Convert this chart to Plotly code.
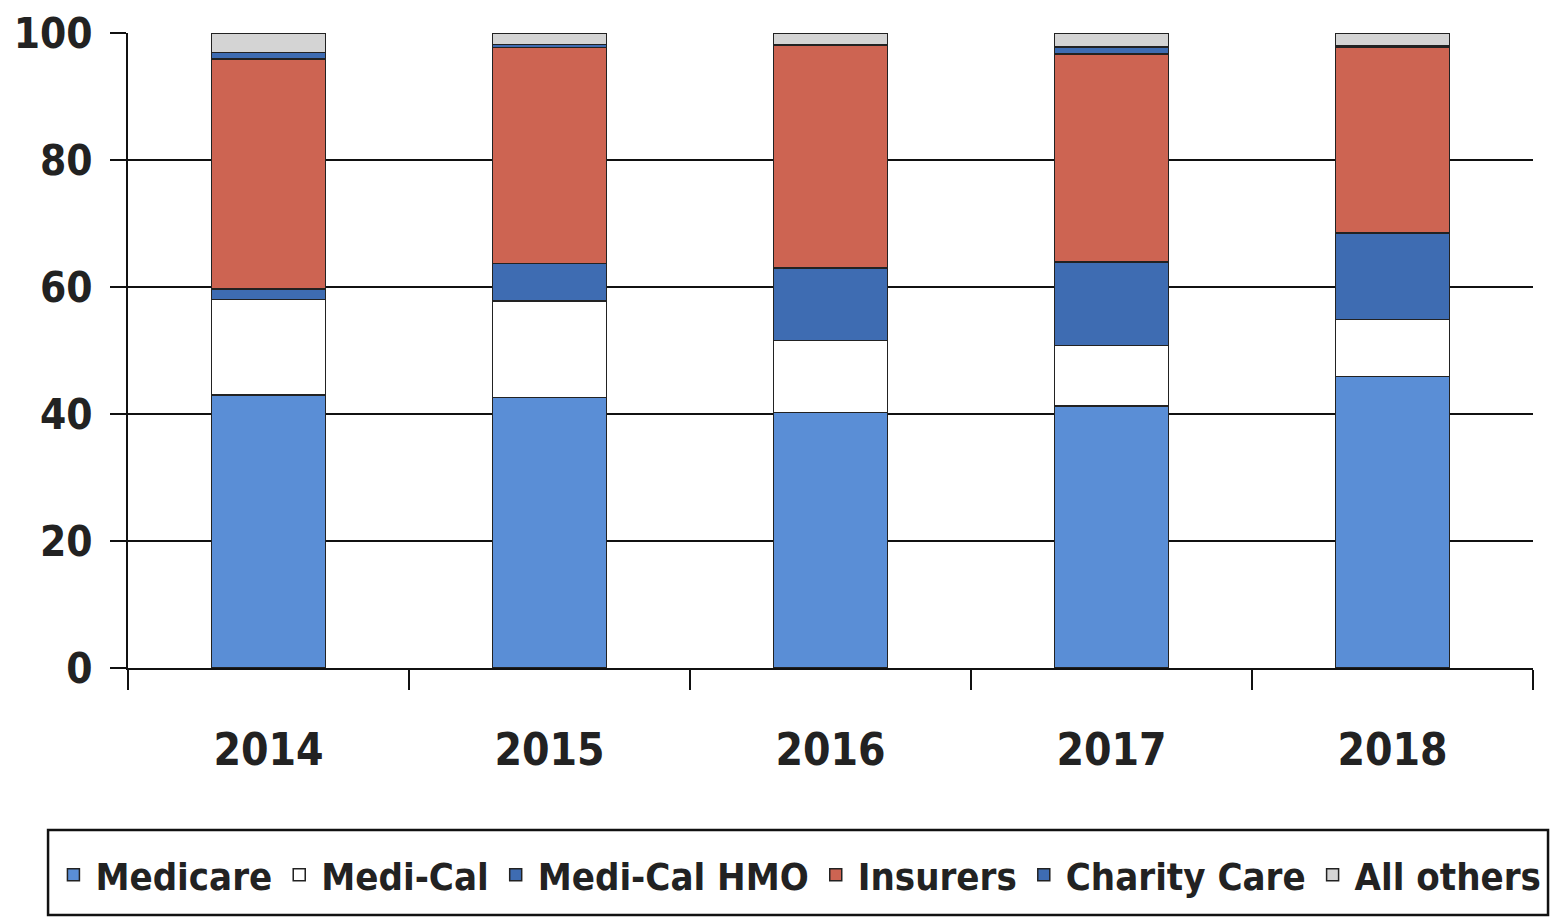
import plotly.graph_objects as go

years = ["2014", "2015", "2016", "2017", "2018"]
medicare = [43.0, 42.6, 40.2, 41.3, 45.9]
medi_cal = [15.0, 15.2, 11.4, 9.5, 9.0]
medi_cal_hmo = [1.7, 5.9, 11.4, 13.1, 13.6]
insurers = [36.2, 34.0, 35.0, 32.8, 29.3]
charity_care = [1.0, 0.5, 0.2, 1.1, 0.2]
all_others = [3.1, 1.8, 1.8, 2.2, 2.0]

series = [
    ("Medicare", medicare, "#5A8ED6"),
    ("Medi-Cal", medi_cal, "#FFFFFF"),
    ("Medi-Cal HMO", medi_cal_hmo, "#3E6CB2"),
    ("Insurers", insurers, "#CD6452"),
    ("Charity Care", charity_care, "#3E6CB2"),
    ("All others", all_others, "#D4D4D4"),
]

font_family = "DejaVu Sans Condensed, Liberation Sans Narrow, Liberation Sans, Arial, sans-serif"

fig = go.Figure()
for name, vals, color in series:
    fig.add_trace(go.Bar(
        x=years, y=vals, name=name,
        marker=dict(color=color, line=dict(color="#222222", width=1.5)),
        width=0.405,
    ))

# legend frame
fig.add_shape(type="rect", xref="paper", yref="paper",
              x0=-0.0569, x1=1.0107, y0=-0.389, y1=-0.2551,
              line=dict(color="#111111", width=2.5), fillcolor="rgba(0,0,0,0)")

fig.update_layout(
    barmode="stack",
    width=1561, height=918,
    margin=dict(l=120, r=36, t=25, b=258, autoexpand=False),
    paper_bgcolor="white", plot_bgcolor="white",
    font=dict(family=font_family, color="#222222"),
    showlegend=True,
    legend=dict(
        orientation="h", x=-0.0545, xanchor="left", y=-0.326, yanchor="middle",
        font=dict(size=38, family=font_family, color="#222222", weight="bold"),
        borderwidth=0, bgcolor="rgba(0,0,0,0)",
        itemwidth=34, traceorder="normal",
    ),
)
fig.update_xaxes(
    showline=True, linecolor="#111111", linewidth=2,
    ticks="outside", tickson="boundaries", ticklen=20, tickwidth=2, tickcolor="#111111",
    tickfont=dict(size=44, family=font_family, color="#222222", weight="bold"),
    ticklabelstandoff=42,
    showgrid=False,
)
fig.update_yaxes(
    range=[0, 100], dtick=20,
    showline=True, linecolor="#111111", linewidth=2,
    ticks="outside", ticklen=16, tickwidth=2, tickcolor="#111111",
    tickfont=dict(size=42, family=font_family, color="#222222", weight="bold"),
    ticklabelstandoff=9,
    showgrid=True, gridcolor="#111111", gridwidth=1.5,
    zeroline=False,
)

fig.write_html("out.html")
